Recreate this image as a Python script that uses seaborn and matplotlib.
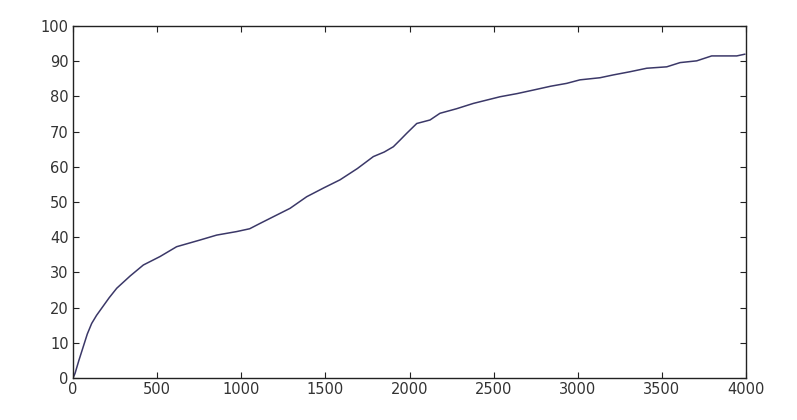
import matplotlib
matplotlib.use('Agg')
import matplotlib.pyplot as plt
import pandas as pd
import seaborn as sns

# points
x_vals = [0, 12, 35, 61, 85, 111, 140, 170, 215, 260, 340, 418, 517, 616, 755, 854, 973,
          1050, 1111, 1190, 1290, 1389, 1490, 1587, 1690, 1785, 1850, 1904, 1944, 1983,
          2043, 2122, 2181, 2280, 2379, 2538, 2640, 2736, 2840, 2934, 3013, 3132, 3211,
          3310, 3410, 3529, 3608, 3707, 3796, 3870, 3945, 3994]
y_vals = [0, 1.3, 5, 8.9, 12.5, 15.5, 17.8, 19.8, 22.8, 25.5, 29.0, 32.1, 34.5, 37.3,
          39.2, 40.6, 41.6, 42.4, 43.9, 45.8, 48.2, 51.5, 54.0, 56.3, 59.5, 62.9, 64.2,
          65.7, 67.6, 69.5, 72.3, 73.3, 75.2, 76.5, 78.0, 79.9, 80.8, 81.8, 82.9, 83.7,
          84.7, 85.3, 86.1, 87.0, 88.0, 88.4, 89.6, 90.1, 91.5, 91.5, 91.5, 92.0]

df = pd.DataFrame({'x': x_vals, 'y': y_vals})

sns.set_style('ticks')
plt.rcParams['font.family'] = ['DejaVu Sans']

fig = plt.figure(figsize=(7.97, 4.2), dpi=100)
ax = fig.add_axes([73 / 797, 42 / 420, 673 / 797, 352 / 420])
sns.lineplot(data=df, x='x', y='y', ax=ax, color='#3b3868', linewidth=1.1)

ax.set_xlim(0, 4000)
ax.set_ylim(0, 100)
ax.set_xticks(range(0, 4001, 500))
ax.set_yticks(range(0, 101, 10))
ax.set_xlabel('')
ax.set_ylabel('')
for s in ax.spines.values():
    s.set_visible(True)
    s.set_color('#222222')
    s.set_linewidth(1.0)
ax.tick_params(direction='in', length=4, top=True, right=True, labelsize=10.5,
               colors='#222222', labelcolor='#333333', pad=3)

plt.savefig('out.png', dpi=100, facecolor='white')
